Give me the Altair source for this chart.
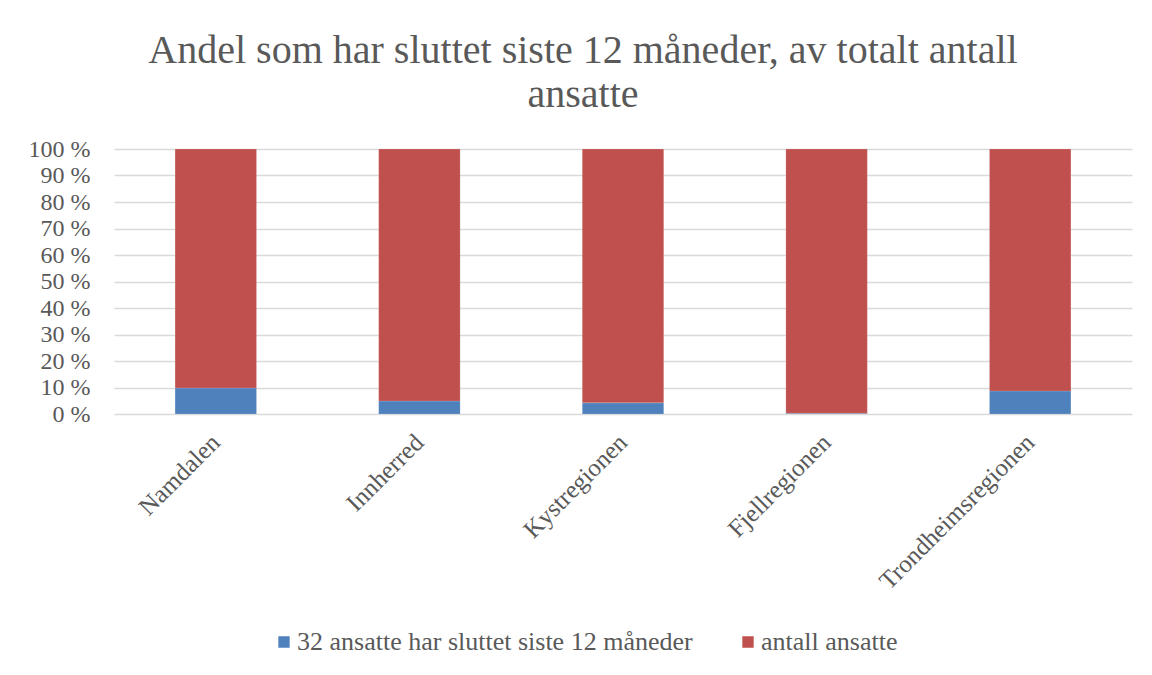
import altair as alt
import pandas as pd

regions = ["Namdalen", "Innherred", "Kystregionen", "Fjellregionen", "Trondheimsregionen"]
series = ["32 ansatte har sluttet siste 12 måneder", "antall ansatte"]
sluttet_pct = [9.8, 4.9, 4.2, 0.3, 8.7]
ansatte_pct = [90.2, 95.1, 95.8, 99.7, 91.3]
colors = ["#4F81BD", "#C0504D"]

rows = []
for i, r in enumerate(regions):
    rows.append({"region": r, "serie": series[0], "verdi": sluttet_pct[i], "ord": 0})
    rows.append({"region": r, "serie": series[1], "verdi": ansatte_pct[i], "ord": 1})
df = pd.DataFrame(rows)

FONT = "Liberation Serif"
GRAY = "#595959"

chart = alt.Chart(df).mark_bar(stroke="#ffffff", strokeWidth=0.3, strokeOpacity=0.5).encode(
    x=alt.X("region:N", sort=regions, title=None,
            scale=alt.Scale(paddingInner=0.6, paddingOuter=0.3),
            axis=alt.Axis(labelAngle=-45, labelAlign="right", labelBaseline="middle",
                          labelFontSize=25, labelColor=GRAY, labelFont=FONT, labelLimit=400,
                          ticks=False, domain=False, labelPadding=24)),
    y=alt.Y("verdi:Q", stack="normalize", title=None,
            scale=alt.Scale(domain=[0, 1]),
            axis=alt.Axis(values=[i / 10 for i in range(11)],
                          labelExpr="round(datum.value*100) + ' %'",
                          labelFontSize=24, labelColor=GRAY, labelFont=FONT,
                          ticks=False, domain=False, labelPadding=24,
                          gridColor="#D9D9D9", gridWidth=1.3)),
    color=alt.Color("serie:N", sort=series,
                    scale=alt.Scale(domain=series, range=colors),
                    legend=alt.Legend(title=None, orient="none", direction="horizontal",
                                      legendX=157, legendY=480,
                                      symbolType="square", symbolSize=165,
                                      labelOffset=0,
                                      labelFontSize=26, labelColor=GRAY, labelFont=FONT,
                                      columnPadding=42, labelLimit=700)),
    order=alt.Order("ord:Q"),
).properties(
    width=1018,
    height=265,
    title=alt.TitleParams(
        ["Andel som har sluttet siste 12 måneder, av totalt antall", "ansatte"],
        font=FONT, fontSize=40, fontWeight="normal", color=GRAY,
        anchor="middle", dx=-40, offset=22, lineHeight=44,
    ),
    padding={"left": 106, "top": 141, "right": 12, "bottom": 253},
    autosize=alt.AutoSizeParams(type="none"),
).configure_view(stroke=None)

chart.save("out.html", embed_options={"renderer": "svg", "actions": False})
